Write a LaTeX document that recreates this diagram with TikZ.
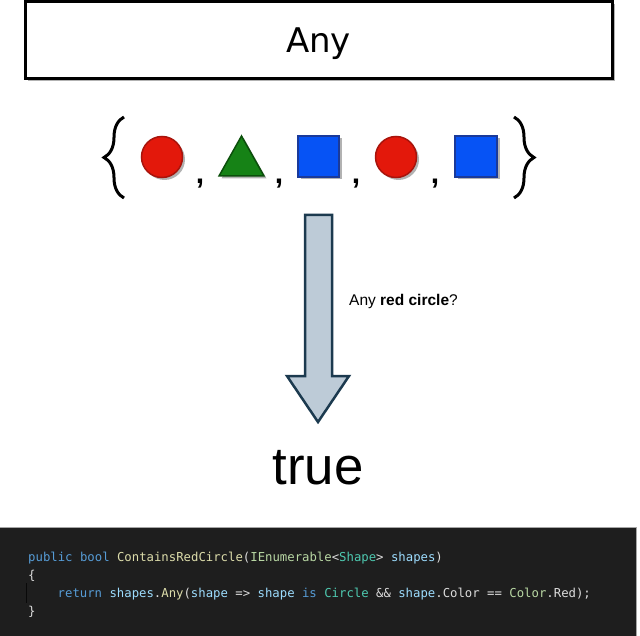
\documentclass[tikz,border=0pt]{standalone}
\usepackage{fontspec}
\setmainfont{Liberation Sans}
\setmonofont{DejaVu Sans Mono}
\newfontfamily\titlefont{DejaVu Sans}
\usepackage{tikz}
\usetikzlibrary{shadows, decorations.pathreplacing}

\definecolor{redfill}{HTML}{E3180B}
\definecolor{redline}{HTML}{A8140C}
\definecolor{greenfill}{HTML}{168216}
\definecolor{greenline}{HTML}{0B4F0B}
\definecolor{bluefill}{HTML}{0653F5}
\definecolor{blueline}{HTML}{1A3A9A}
\definecolor{arrowfill}{HTML}{BDCBD7}
\definecolor{arrowline}{HTML}{1C3A4F}
\definecolor{codebg}{HTML}{1E1E1E}
\definecolor{codetext}{HTML}{DCDCDC}
\definecolor{codekw}{HTML}{569CD6}
\definecolor{codefn}{HTML}{DCDCAA}
\definecolor{codety}{HTML}{4EC9B0}
\definecolor{codeif}{HTML}{B8D7A3}
\definecolor{codepa}{HTML}{9CDCFE}

\newcommand{\cdkw}[1]{\textcolor{codekw}{#1}}
\newcommand{\cdfn}[1]{\textcolor{codefn}{#1}}
\newcommand{\cdty}[1]{\textcolor{codety}{#1}}
\newcommand{\cdif}[1]{\textcolor{codeif}{#1}}
\newcommand{\cdpa}[1]{\textcolor{codepa}{#1}}

\begin{document}
\begin{tikzpicture}[x=1pt, y=-1pt,
        shade/.style={drop shadow={shadow xshift=2.5pt, shadow yshift=-2.5pt, fill=black!30, opacity=1}},
        redshape/.style={fill=redfill, draw=redline, line width=1.5pt, shade},
        greenshape/.style={fill=greenfill, draw=greenline, line width=1.5pt, shade},
        blueshape/.style={fill=bluefill, draw=blueline, line width=1.5pt, shade},
        comma/.style={anchor=base, inner sep=0pt, font=\fontsize{30}{30}\selectfont\bfseries},
        setbrace/.style={decorate, decoration={brace, amplitude=20pt}, line width=3pt},
        codeline/.style={anchor=base west, inner sep=0pt, text=codetext, font=\ttfamily\fontsize{12.3}{14}\selectfont}]
        \useasboundingbox (0,0) rectangle (640,636);

        % title
        \draw[fill=white, line width=3pt, shade] (25,2) rectangle (612,79);
        \node[anchor=base, inner sep=0pt, font=\titlefont\fontsize{34}{34}\selectfont] (title) at (318.5,53) {Any};

        % the set
        \draw[setbrace] (124,198) -- (124,117);
        \draw[redshape] (162,157) circle (20.5);
        \node[comma] (c1) at (200,184) {,};
        \draw[greenshape] (219,176) -- (264,176) -- (241.5,136) -- cycle;
        \node[comma] (c2) at (279,184) {,};
        \draw[blueshape] (298,136) rectangle (339,177);
        \node[comma] (c3) at (356,184) {,};
        \draw[redshape] (396,157) circle (20.5);
        \node[comma] (c4) at (435,184) {,};
        \draw[blueshape] (455,136) rectangle (497,177);
        \draw[setbrace] (514,117) -- (514,198);

        % arrow
        \draw[fill=arrowfill, draw=arrowline, line width=2.5pt, line join=miter]
            (305,215) -- (332,215) -- (332,376) -- (349,376) -- (318,422)
            -- (287,376) -- (305,376) -- cycle;
        \node[anchor=base west, inner sep=0pt, font=\fontsize{15.5}{18}\selectfont] (ask) at (349,306) {Any \textbf{red circle}?};

        % result
        \node[anchor=base, inner sep=0pt, font=\fontsize{52.8}{56}\selectfont] (result) at (318,484) {true};

        % code
        \draw[fill=codebg, draw=black!35, line width=0.8pt] (-1,527) rectangle (636,637);
        \draw[black!70!codebg, line width=0.8pt] (26,583) -- (26,603);
        \node[codeline] (l1) at (28,561.5) {\cdkw{public} \cdkw{bool} \cdfn{ContainsRedCircle}(\cdif{IEnumerable}<\cdty{Shape}> \cdpa{shapes})};
        \node[codeline] (l2) at (28,579.5) {\{};
        \node[codeline] (l3) at (57.5,597.5) {\cdkw{return} \cdpa{shapes}.\cdfn{Any}(\cdpa{shape} => \cdpa{shape} \cdkw{is} \cdty{Circle} \&\& \cdpa{shape}.Color == \cdif{Color}.Red);};
        \node[codeline] (l4) at (28,615.5) {\}};
    \end{tikzpicture}
\end{document}
